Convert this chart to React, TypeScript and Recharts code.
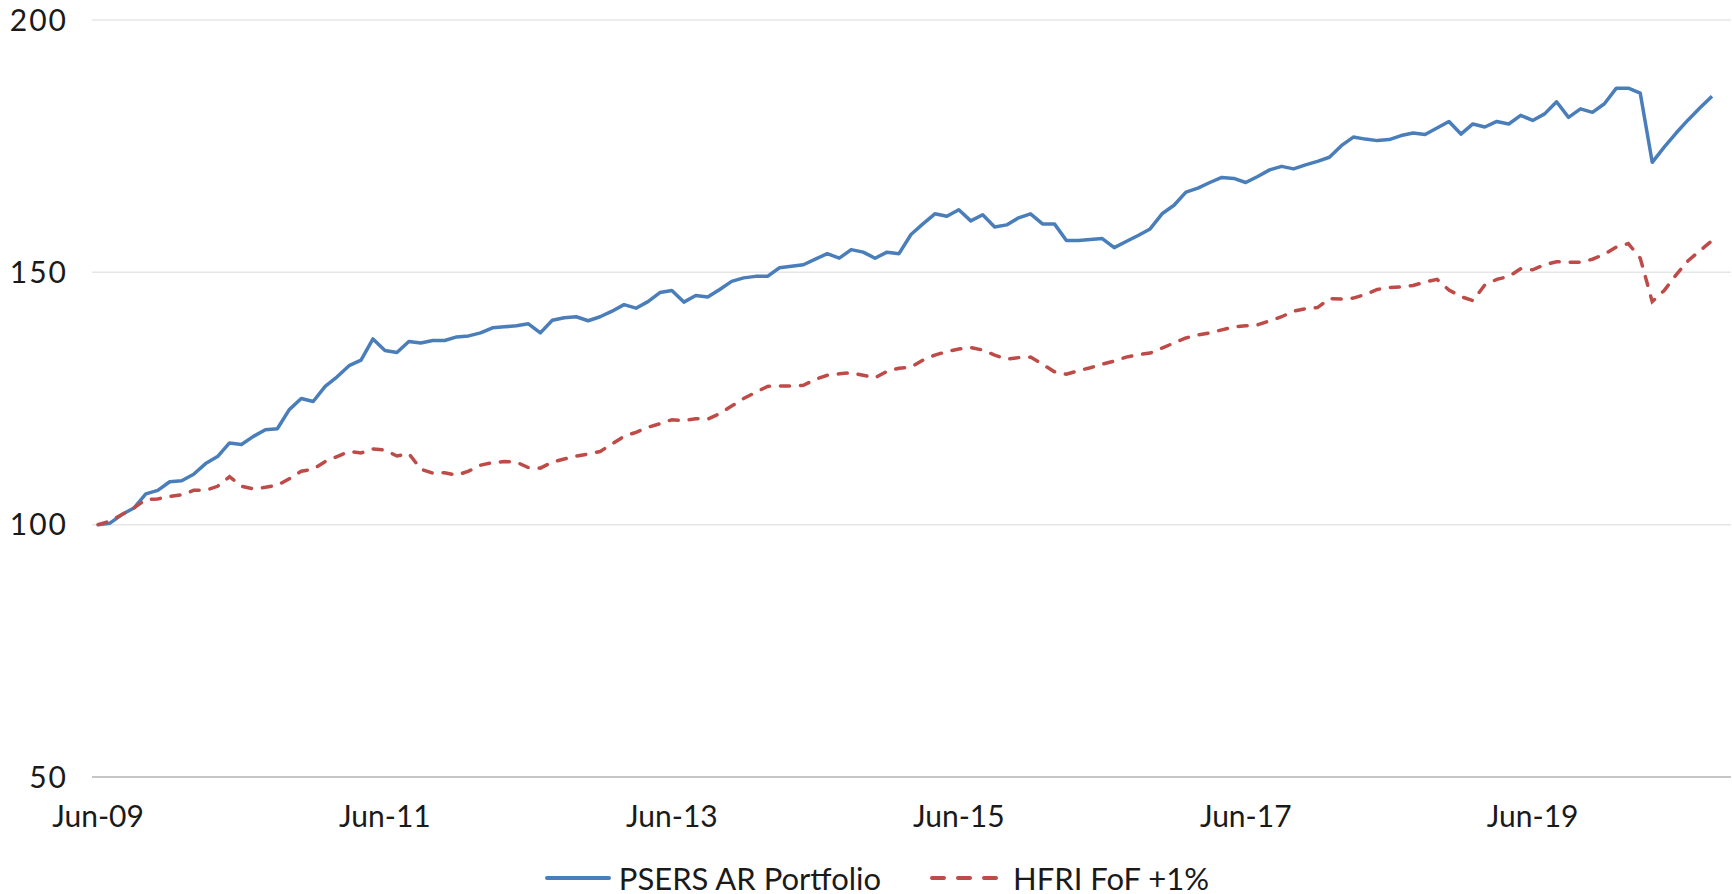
import { LineChart, Line, XAxis, YAxis, CartesianGrid } from 'recharts';

// monthly index values, Jun-09 .. Sep-20
const portfolio = [
  100.0, 100.3, 102.0, 103.3, 106.1, 106.8, 108.5, 108.7, 110.0, 112.1, 113.5, 116.2,
  115.9, 117.5, 118.8, 119.0, 122.8, 125.0, 124.4, 127.4, 129.3, 131.5, 132.6, 136.8,
  134.5, 134.1, 136.3, 136.0, 136.5, 136.5, 137.2, 137.4, 138.0, 139.0, 139.2, 139.4,
  139.8, 138.0, 140.5, 141.0, 141.2, 140.4, 141.2, 142.3, 143.6, 142.9, 144.2, 146.0,
  146.4, 144.1, 145.4, 145.1, 146.6, 148.2, 148.9, 149.2, 149.2, 150.9, 151.2, 151.5,
  152.6, 153.7, 152.8, 154.5, 154.0, 152.8, 154.0, 153.7, 157.5, 159.6, 161.6, 161.1,
  162.4, 160.2, 161.4, 159.0, 159.4, 160.8, 161.6, 159.6, 159.6, 156.3, 156.3, 156.5,
  156.7, 154.9, 156.1, 157.3, 158.6, 161.6, 163.3, 165.9, 166.7, 167.8, 168.8, 168.6,
  167.8, 169.0, 170.3, 171.0, 170.5, 171.3, 172.0, 172.8, 175.1, 176.8, 176.4, 176.1,
  176.3, 177.1, 177.6, 177.3, 178.6, 179.9, 177.4, 179.4, 178.8, 179.9, 179.4, 181.1,
  180.1, 181.4, 183.8, 180.7, 182.4, 181.7, 183.4, 186.5, 186.5, 185.5, 171.8, 174.8,
  177.6, 180.2, 182.6, 184.9,
];

const benchmark = [
  100.0, 100.7, 102.0, 103.3, 105.0, 105.1, 105.6, 105.9, 106.8, 106.8, 107.6, 109.5,
  107.6, 107.1, 107.4, 107.8, 109.1, 110.6, 111.0, 112.5, 113.5, 114.5, 114.2, 115.0,
  114.8, 113.6, 114.1, 111.0, 110.2, 110.3, 109.8, 110.6, 111.8, 112.3, 112.5, 112.4,
  111.3, 111.2, 112.4, 113.0, 113.6, 114.0, 114.5, 116.0, 117.5, 118.3, 119.3, 120.0,
  120.8, 120.6, 121.0, 120.9, 122.0, 123.5, 125.0, 126.2, 127.4, 127.5, 127.5, 127.6,
  128.8, 129.6, 129.9, 130.1, 129.6, 129.1, 130.4, 131.0, 131.2, 132.6, 133.6, 134.3,
  134.8, 135.1, 134.6, 133.6, 132.8, 133.1, 133.2, 131.8, 130.3, 129.8, 130.5, 131.1,
  131.8, 132.4, 133.2, 133.7, 134.0, 135.0, 136.0, 137.0, 137.6, 138.0, 138.6, 139.2,
  139.4, 139.6, 140.4, 141.2, 142.3, 142.8, 143.0, 144.8, 144.7, 144.9, 145.6, 146.6,
  147.0, 147.1, 147.4, 148.1, 148.6, 146.5, 145.2, 144.4, 147.5, 148.6, 149.2, 150.7,
  150.5, 151.5, 152.1, 152.0, 152.0, 152.6, 153.6, 155.0, 155.7, 152.8, 144.2, 146.4,
  149.5, 152.3, 154.3, 156.3,
];

const monthNames = ['Jan', 'Feb', 'Mar', 'Apr', 'May', 'Jun', 'Jul', 'Aug', 'Sep', 'Oct', 'Nov', 'Dec'];
const categories = portfolio.map((_, i) => {
  const m = 5 + i;
  return `${monthNames[m % 12]}-${String(9 + Math.floor(m / 12)).padStart(2, '0')}`;
});
const xTicks = ['Jun-09', 'Jun-11', 'Jun-13', 'Jun-15', 'Jun-17', 'Jun-19'];
const yTicks = [50, 100, 150, 200];

const seriesNames = ['PSERS AR Portfolio', 'HFRI FoF +1%'];
const BLUE = '#4a7ebb';
const RED = '#be4b48';
const FONT = 'Lato, "Open Sans", sans-serif';

const data = categories.map((month, i) => ({
  month,
  portfolio: portfolio[i],
  benchmark: benchmark[i],
}));

function LegendItem({ color, dashed, width, label }: { color: string; dashed?: boolean; width: number; label: string }) {
  return (
    <div style={{ display: 'flex', alignItems: 'center' }}>
      <svg width={width} height={10} style={{ marginRight: dashed ? 5 : 8 }}>
        <line
          x1={2}
          y1={5}
          x2={width - 2}
          y2={5}
          stroke={color}
          strokeWidth={4}
          strokeLinecap="round"
          strokeDasharray={dashed ? '12 14' : undefined}
        />
      </svg>
      <span>{label}</span>
    </div>
  );
}

export default function App() {
  return (
    <div
      style={{
        position: 'absolute',
        left: 0,
        top: 0,
        width: 1732,
        height: 894,
        background: '#fff',
        fontFamily: FONT,
        color: '#1a1a1a',
      }}
    >
      <LineChart width={1732} height={850} data={data} margin={{ top: 20, right: 1, bottom: 13, left: 0 }}>
        <CartesianGrid horizontal vertical={false} stroke="#e6e6e6" strokeWidth={1.5} />
        <XAxis
          dataKey="month"
          ticks={xTicks}
          interval={0}
          height={60}
          padding={{ left: 6, right: 19 }}
          tickLine={false}
          axisLine={{ stroke: '#c6c6c6', strokeWidth: 2 }}
          tickMargin={23}
          tick={{ fill: '#1a1a1a', fontSize: 30, fontFamily: FONT }}
        />
        <YAxis
          domain={[50, 200]}
          ticks={yTicks}
          width={92}
          axisLine={false}
          tickLine={false}
          tickSize={0}
          tickMargin={24}
          tick={{ fill: '#1a1a1a', fontSize: 30, fontFamily: FONT, letterSpacing: 2 }}
        />
        <Line
          type="linear"
          dataKey="portfolio"
          name={seriesNames[0]}
          stroke={BLUE}
          strokeWidth={3.5}
          strokeLinejoin="round"
          dot={false}
          isAnimationActive={false}
        />
        <Line
          type="linear"
          dataKey="benchmark"
          name={seriesNames[1]}
          stroke={RED}
          strokeWidth={3.5}
          strokeDasharray="9 11"
          strokeLinecap="round"
          dot={false}
          isAnimationActive={false}
        />
      </LineChart>
      <div
        style={{
          position: 'absolute',
          top: 858,
          left: 0,
          width: 1732,
          display: 'flex',
          justifyContent: 'center',
          alignItems: 'center',
          gap: 49,
          paddingLeft: 22,
          boxSizing: 'border-box',
          fontSize: 31,
          lineHeight: '40px',
        }}
      >
        <LegendItem color={BLUE} width={66} label={seriesNames[0]} />
        <LegendItem color={RED} dashed width={78} label={seriesNames[1]} />
      </div>
    </div>
  );
}
